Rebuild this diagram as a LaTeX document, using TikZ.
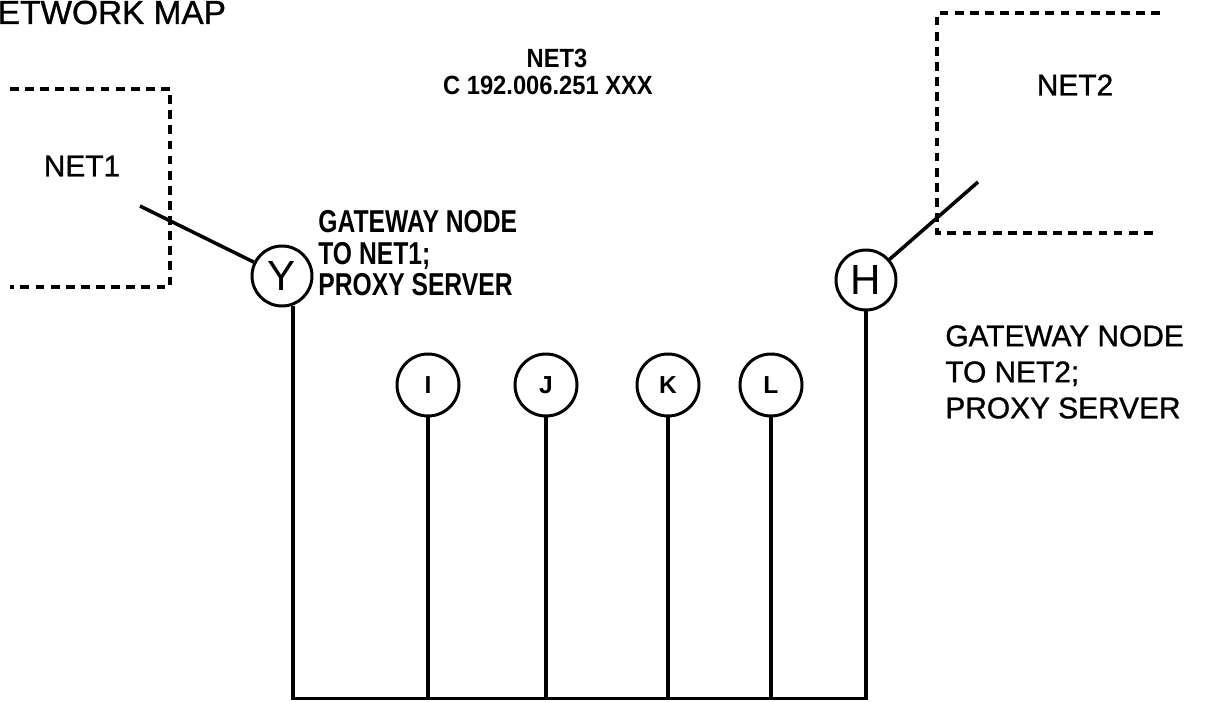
\documentclass[tikz,border=0pt]{standalone}
\usepackage{fontspec}
\setmainfont{Liberation Sans}
\newfontfamily\heavyfont[FakeBold=1]{Liberation Sans}
\newfontfamily\narrowfont[FakeStretch=0.78]{Liberation Sans}
\newfontfamily\tagfont[FakeStretch=0.9]{Liberation Sans}
\usetikzlibrary{calc}
\tikzset{
  wire/.style={line width=2pt},
  netbox/.style={line width=2pt, dash pattern=on 5pt off 3.6pt},
  gw/.style={draw, circle, line width=1.7pt, inner sep=0pt, minimum size=1.2cm,
             font=\fontsize{24}{24}\selectfont},
  host/.style={draw, circle, line width=1.7pt, inner sep=0pt, minimum size=1.24cm,
               font=\fontsize{14}{14}\selectfont\bfseries},
  bigtext/.style={inner sep=0pt, font=\heavyfont\fontsize{17}{20.5}\selectfont, align=left},
  smalltext/.style={inner sep=0pt, font=\narrowfont\fontsize{18}{18}\selectfont\bfseries, align=left},
  tagtext/.style={inner sep=0pt, font=\tagfont\fontsize{15}{15}\selectfont\bfseries},
}

\begin{document}
\begin{tikzpicture}
\useasboundingbox (0,0) rectangle (24.22,14.02);

% title, cut off at the page edge
\node[inner sep=0pt, anchor=base west, font=\heavyfont\fontsize{19}{19}\selectfont] (title) at (-0.05,13.54) {ETWORK MAP};

% outside networks
\draw[netbox] (0.2,12.24) -- (3.4,12.24) -- (3.4,8.28) -- (0.2,8.28);
\node[bigtext] (net1) at (1.64,10.7) {NET1};
\draw[netbox] (23.2,13.76) -- (18.74,13.76) -- (18.74,9.36) -- (23.06,9.36);
\node[bigtext] (net2) at (21.5,12.32) {NET2};

% local network
\node[tagtext] (net3) at (11.14,12.86) {NET3};
\node[tagtext] (addr) at (10.96,12.32) {C 192.006.251 XXX};

% gateways
\node[gw] (Y) at (5.64,8.5) {Y};
\node[gw] (H) at (17.32,8.42) {H};
\coordinate (n1end) at (2.8,9.9);
\coordinate (n2end) at (19.56,10.38);
\draw[wire] (n1end) -- (Y);
\draw[wire] (H) -- (n2end);
\node[smalltext, anchor=north west] (ylabel) at (6.36,9.82) {GATEWAY NODE\\TO NET1;\\PROXY SERVER};
\node[bigtext, anchor=north west] (hlabel) at (18.9,7.52) {GATEWAY NODE\\TO NET2;\\PROXY SERVER};

% hosts
\node[host] (I) at (8.56,6.32) {I};
\node[host] (J) at (10.92,6.32) {J};
\node[host] (K) at (13.36,6.32) {K};
\node[host] (L) at (15.42,6.32) {L};

% bus
\coordinate (bus) at (0,0.05);
\draw[wire] (Y.-70) |- (bus -| H) -- (H);
\foreach \n in {I,J,K,L}
  \draw[wire] (\n) -- (\n |- bus);
\end{tikzpicture}
\end{document}
